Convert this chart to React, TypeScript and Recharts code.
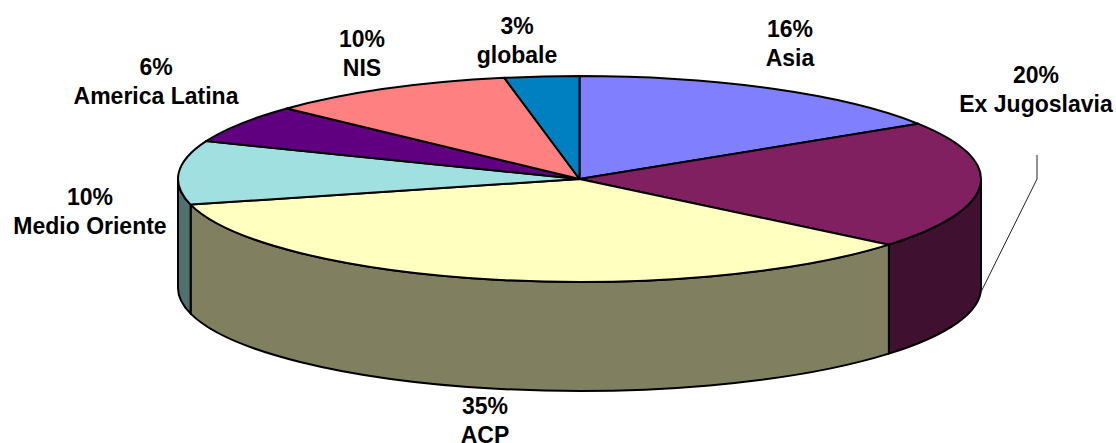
import React from "react";
import { PieChart, Pie, Cell } from "recharts";

// Funding share per region, clockwise from twelve o'clock.
const regions = ["Asia", "Ex Jugoslavia", "ACP", "Medio Oriente", "America Latina", "NIS", "globale"];
const shares = [16, 20, 35, 10, 6, 10, 3];
const topColors = ["#8080FF", "#802060", "#FFFFC0", "#A0E0E0", "#600080", "#FF8080", "#0080C0"];
const wallColors = ["#404080", "#401030", "#808060", "#507070", "#300040", "#804040", "#004060"];

const rows = regions.map((name, i) => ({ name, value: shares[i] }));

// Disc geometry: the pie is tilted, so its circle is flattened vertically.
const WIDTH = 1116;
const HEIGHT = 443;
const CX = 579.5;
const CY = 179;
const RX = 401.5;
const TILT = 103 / 401.5;
const DEPTH = 109;

// Centre of each two-line label (x, baseline of the first line).
const labelSpots: Record<string, [number, number]> = {
  Asia: [790, 37],
  "Ex Jugoslavia": [1036, 83],
  ACP: [485, 414],
  "Medio Oriente": [90, 205],
  "America Latina": [156, 75],
  NIS: [362, 47],
  globale: [517, 34],
};

const rad = (deg: number) => (deg * Math.PI) / 180;

function TiltedSlice(props: any) {
  const { cx, cy, outerRadius, startAngle, endAngle, index } = props;
  const ry = outerRadius * TILT;
  const px = (a: number) => cx + outerRadius * Math.cos(rad(a));
  const py = (a: number) => cy - ry * Math.sin(rad(a));
  const large = startAngle - endAngle > 180 ? 1 : 0;
  const top = `M${cx},${cy} L${px(startAngle)},${py(startAngle)} A${outerRadius},${ry} 0 ${large} 1 ${px(endAngle)},${py(endAngle)} Z`;

  // Only the part of the rim facing the viewer gets a side wall.
  const hi = Math.min(startAngle, 0);
  const lo = Math.max(endAngle, -180);
  const wall =
    hi > lo
      ? `M${px(hi)},${py(hi)} A${outerRadius},${ry} 0 0 1 ${px(lo)},${py(lo)} L${px(lo)},${py(lo) + DEPTH} A${outerRadius},${ry} 0 0 0 ${px(hi)},${py(hi) + DEPTH} Z`
      : null;

  return (
    <g>
      {wall && <path d={wall} fill={wallColors[index]} stroke="#000" strokeWidth={2} strokeLinejoin="round" />}
      <path d={top} fill={topColors[index]} stroke="#000" strokeWidth={2} strokeLinejoin="round" />
    </g>
  );
}

function RegionLabel(props: any) {
  const { name, value } = props;
  const [x, y] = labelSpots[name];
  return (
    <g>
      {name === "Ex Jugoslavia" && (
        <polyline points="1037,155 1037,179 980,294" fill="none" stroke="#222" strokeWidth={1} />
      )}
      <text
        x={x}
        y={y}
        textAnchor="middle"
        fontFamily="'Liberation Sans', Arial, sans-serif"
        fontWeight="bold"
        fontSize={23}
        fill="#000"
      >
        <tspan x={x}>{value}%</tspan>
        <tspan x={x} dy={29.4}>{name}</tspan>
      </text>
    </g>
  );
}

export default function App() {
  return (
    <div style={{ position: "absolute", left: 0, top: 0, width: WIDTH, height: HEIGHT, background: "#fff", overflow: "hidden" }}>
      <PieChart width={WIDTH} height={HEIGHT} margin={{ top: 0, right: 0, bottom: 0, left: 0 }}>
        <Pie
          data={rows}
          dataKey="value"
          nameKey="name"
          cx={CX}
          cy={CY}
          outerRadius={RX}
          innerRadius={0}
          startAngle={90}
          endAngle={-270}
          paddingAngle={0}
          isAnimationActive={false}
          shape={TiltedSlice}
          label={RegionLabel}
          labelLine={false}
        >
          {rows.map((r, i) => (
            <Cell key={r.name} fill={topColors[i]} />
          ))}
        </Pie>
      </PieChart>
    </div>
  );
}
